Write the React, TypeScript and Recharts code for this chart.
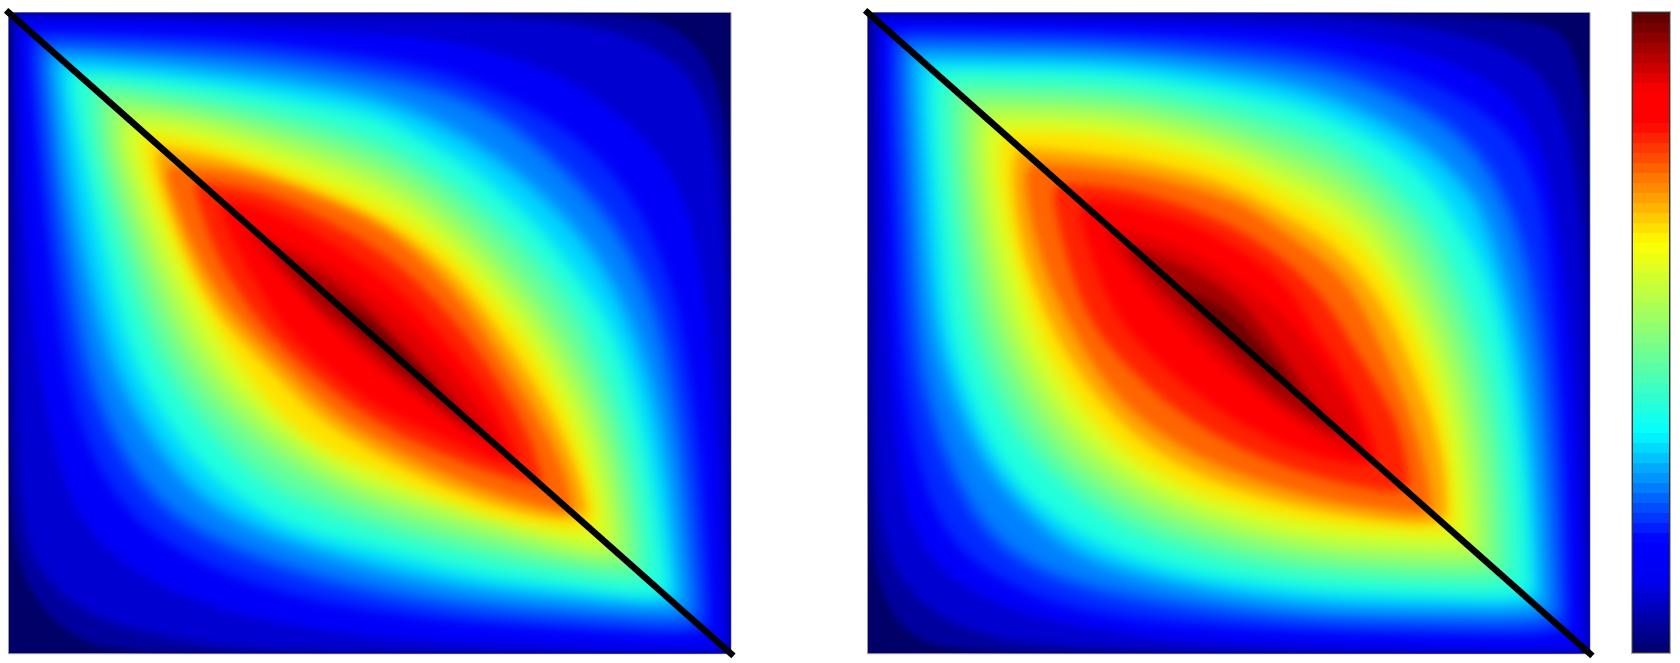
import { ScatterChart, Scatter, XAxis, YAxis, ReferenceArea, BarChart, Bar } from 'recharts'

type Pt = [number, number]

// contour levels, as a fraction of the colour scale
const levels = [0.03, 0.06, 0.115, 0.175, 0.23, 0.29, 0.345, 0.42, 0.49, 0.56, 0.64, 0.685, 0.73, 0.78, 0.83, 0.877, 0.92, 0.97]
// softening of each level, px
const levelBlur = [3, 4, 5, 6, 8, 8, 7, 9, 9, 9, 7, 5, 5, 5, 5, 4, 4, 3]

// left panel: [x, y] in percent of the panel, y from the top
const leftUpper: Pt[][] = [
    [[0, 0], [60, 0], [86.8, 0.2], [91.4, 2], [95.1, 4.8], [97.9, 10], [99.5, 19], [100, 40], [100, 100]],
    [[1, 0.5], [30, 0.4], [60, 0.5], [77.6, 1.2], [86.8, 3.8], [93.8, 8.5], [97.4, 16.3], [98.8, 29], [99.5, 45], [99.7, 70], [99.8, 99]],
    [[1.5, 1], [22, 1.2], [50, 3.4], [59, 4], [68.4, 6.4], [77.6, 10.3], [86.8, 17.8], [92.4, 25.7], [95.1, 34.5], [97, 50], [98.4, 70], [98.8, 91], [99, 99]],
    [[3.5, 3.3], [17.3, 3.5], [35.7, 4.6], [50, 6.9], [59.2, 8.7], [68.4, 12.6], [77.6, 18.4], [84.5, 25.7], [89.1, 34.5], [92.4, 45], [93.5, 52], [95.4, 65], [96.5, 80.7], [97, 96]],
    [[5, 5], [17.3, 5.5], [35.7, 6.8], [50, 9.5], [59.2, 11.8], [68.4, 16], [77.6, 25], [84, 33], [88.5, 43], [91, 52], [93.2, 66], [94.5, 80], [95.4, 94]],
    [[6.5, 7], [17.3, 7.7], [35.7, 10], [50, 12.7], [59.2, 16.9], [68.4, 23], [77.6, 32.3], [83, 40.7], [87.6, 52], [90.6, 66], [92.1, 80], [93, 92]],
    [[8.5, 9.3], [17.3, 9.8], [31, 11.6], [50, 15.5], [54.6, 18], [59.2, 21], [63.8, 24], [68.4, 28.3], [73, 33], [77.6, 39.2], [81.3, 45], [84, 50.5], [86.4, 58.3], [88.2, 66.7], [89.6, 75.5], [90.5, 83.3], [91.2, 90]],
    [[11.5, 11], [20, 12.3], [31, 14.1], [50, 19], [59.2, 24.8], [68.4, 33], [73, 38.5], [78, 45.6], [80.2, 50], [85.6, 65], [87.8, 80], [88, 88]],
    [[14, 13.5], [22, 14.8], [31, 16.5], [50, 22.4], [59.2, 28.5], [68.4, 38], [76.9, 50], [83.3, 65], [85.6, 80], [85.8, 85.5]],
    [[17, 16.5], [24, 17.2], [31, 19], [50, 25.8], [59.2, 32.2], [68.4, 42.7], [73.5, 50], [81, 65], [83.5, 80], [83.5, 83]],
    [[20, 18.9], [31, 21.5], [50, 29.3], [59.2, 36], [63.8, 40.7], [68.4, 47.5], [71.7, 51.6], [75.8, 59.9], [78.6, 67.2], [80.9, 75.5], [81.3, 79.6]],
    [[21.5, 21.2], [31, 23], [50, 30.9], [59.2, 38.3], [63.8, 43.6], [69, 51.6], [73, 58.3], [76.5, 65.6], [79, 72.4], [80, 78]],
    [[23.7, 24], [31, 24.6], [40.3, 27.8], [50, 32.4], [54.6, 36], [59.2, 40.7], [63.8, 46.5], [66.6, 51.6], [70.7, 58.3], [74.4, 65.6], [77.2, 72.4], [78, 77.3]],
    [[27, 26.5], [35.7, 28], [44.9, 33], [50, 36.2], [54.6, 40], [59.2, 45], [63.8, 51], [68, 58], [72, 65.6], [74, 73.5]],
    [[30.2, 29.3], [35.7, 30.4], [44.9, 36], [50, 40], [54.6, 43.9], [59.2, 49.6], [63.8, 55.7], [67.5, 61.5], [69.8, 67.7], [70.7, 69.8]],
    [[34.3, 34], [45, 39.5], [50, 44], [54.6, 47.8], [60, 54], [63.8, 59.5], [67, 64.5], [68.6, 68]],
    [[37, 37], [43, 40.5], [50, 46.3], [52.8, 49.9], [59.2, 57], [63.4, 63], [65.7, 65.8]],
    [[44, 43.8], [50, 47.8], [52.8, 51], [56, 54.7], [59.2, 58.3]],
]

const leftLower: Pt[][] = [
    [[0, 0], [0, 50], [0.3, 78.6], [1.6, 87], [4.4, 92.7], [9, 97.4], [14, 99.5], [30, 100], [100, 100]],
    [[1, 1], [1, 30], [1.1, 50], [1, 65], [2, 81.8], [4.8, 88], [10.4, 93.7], [17.3, 96.3], [26.5, 98.4], [35.7, 99.5], [70, 99.7], [99, 99.8]],
    [[1.5, 2], [1.5, 20], [3, 45], [3.9, 52], [4.8, 60], [8, 75.5], [12.7, 83.3], [22, 90.6], [36.7, 95.3], [50, 97.3], [63.8, 98.4], [77.6, 98.9], [96, 99.4]],
    [[3, 4.8], [3.5, 13.7], [4.8, 29.3], [6.7, 47.5], [9, 61.5], [12.7, 71.9], [17.3, 78.6], [21.9, 82.8], [31, 88], [40.3, 91.1], [50, 93.2], [63.8, 95.3], [77.6, 96], [93.8, 97.1]],
    [[4.5, 6.5], [5.2, 15], [6.5, 29], [9.6, 50], [12, 60], [17, 72], [24, 80], [36, 86], [50, 90.3], [64, 93], [77.6, 94], [94, 95.5]],
    [[6.5, 9], [6.9, 12], [8.6, 29], [12.9, 50], [16.3, 60], [23, 72], [31.5, 80], [50, 86.7], [64, 90], [77.6, 91.6], [92, 92.8]],
    [[8.5, 12], [9.2, 16.3], [10.8, 25.7], [13.1, 37.6], [15.9, 50], [18.2, 56.3], [21.4, 63], [25.5, 69.3], [31, 75], [37.8, 79.7], [44.9, 82.3], [50, 83.5], [59.2, 86.4], [68.4, 88.5], [77.6, 89.5], [89.6, 91.6]],
    [[11.5, 13], [12, 20], [13, 26], [15.7, 37], [19.2, 50], [23.8, 60], [31.8, 70], [38, 75.3], [50, 80.4], [64, 84.5], [77.6, 87.3], [87, 88.5]],
    [[14, 16], [14, 20], [15.2, 26], [18.2, 37], [22.5, 50], [27.7, 60], [37.5, 70], [50, 77.2], [64, 81.5], [77.6, 85], [85, 86]],
    [[16, 18.5], [16, 20], [17.4, 26], [20.7, 37], [25.8, 50], [31.5, 60], [43, 70], [50, 74], [64, 78.5], [77.6, 83], [83, 84]],
    [[18.4, 20], [19.1, 24], [21, 30.4], [23.3, 37], [26, 43.4], [29.3, 50.4], [32, 54.7], [35.7, 60.4], [40.3, 65.6], [44.9, 68.6], [50, 71], [59.2, 75.5], [68.4, 79.1], [77.6, 80.7], [80, 80.7]],
    [[20, 22], [22.2, 30.4], [24.6, 37.7], [27.8, 45], [31.5, 50.4], [37, 56.3], [42, 62.5], [50, 68.3], [59.2, 73.4], [68.4, 77.3], [77.6, 79.4]],
    [[21.4, 23.6], [23.3, 30.4], [26, 37.7], [29.7, 45], [33.9, 50.4], [39.2, 56.3], [45, 62.5], [50, 66], [59.2, 71.3], [68.4, 75.5], [77.6, 78.1]],
    [[25.5, 26.5], [27, 32], [29, 38.2], [32.7, 45], [36.4, 50.4], [42, 56.3], [50, 63.5], [59.2, 68.5], [68.4, 72.3], [74, 74]],
    [[29.3, 29.9], [30.2, 33.5], [32.5, 38.7], [35.7, 44.9], [38.9, 50.4], [44.9, 56.3], [50, 61], [56.9, 64.6], [63.8, 68.2], [69.4, 70.8]],
    [[32.5, 34], [36, 38.7], [39.5, 43], [44, 48.5], [50, 54.5], [56.9, 60.5], [63.8, 65.5], [68, 68.8]],
    [[35.7, 36], [39, 40.8], [43.1, 46], [47.7, 50], [50, 52.5], [54.6, 57], [59.2, 60.8], [63.8, 65]],
    [[43.1, 42.9], [46.8, 47.5], [50, 51], [53.7, 54.2], [57.8, 58.3]],
]

// right panel, same levels
const rightUpper: Pt[][] = [
    [[0, 0], [70, 0], [93.8, 1], [97, 4.3], [98.8, 10], [99.7, 19], [100, 40], [100, 100]],
    [[1, 0.5], [40, 0.2], [63.8, 0.3], [77.6, 2.2], [86.9, 4.8], [93.8, 9.5], [97.4, 18.9], [99, 34.5], [99.5, 50], [99.7, 75], [99.8, 99]],
    [[1.7, 1], [25, 1.2], [50, 2], [59.2, 2.5], [68.4, 3.8], [77.6, 6.4], [86.9, 10.6], [92.4, 17.9], [95.2, 29.3], [97.4, 50], [98.2, 65], [98.8, 86], [99, 99]],
    [[3.6, 3], [17.4, 2.9], [35.9, 3.3], [50, 4.2], [59.2, 5.1], [68.4, 7.2], [77.6, 10.6], [86.9, 16.3], [91.5, 23], [93.8, 32], [95.4, 50.4], [96.3, 65], [96.8, 80.7], [97, 96]],
    [[5, 4.5], [17.4, 4.6], [35.9, 5.1], [50, 6.6], [59.2, 7.8], [68.4, 10.3], [77.6, 15.5], [84, 20.5], [90, 32], [93.2, 50], [94.5, 65], [95.2, 80], [95.6, 94]],
    [[6.5, 6.8], [22, 7], [35.9, 7.3], [50, 9.4], [59.2, 11.2], [68.4, 15], [77.6, 21], [83.5, 28], [85.5, 32], [90.4, 50], [91.9, 65], [92.9, 80], [93.3, 92]],
    [[9.1, 8.8], [22, 8.8], [35.9, 9.3], [50, 12], [59.2, 14.2], [66.1, 17.3], [73, 21.5], [78.6, 27.2], [82.2, 33.5], [85.5, 40.3], [88, 50.4], [90.1, 64], [91.2, 78], [91.7, 90]],
    [[11.5, 11], [31.3, 11.5], [40.5, 12.8], [50, 15], [59.2, 18], [63.8, 20], [68.4, 23.1], [72, 26.6], [75.8, 30.6], [79, 35], [84.8, 50], [87.6, 65], [88.8, 80], [88.6, 88]],
    [[14, 13.5], [31.3, 14], [40.5, 15.5], [50, 18], [59.2, 22], [63.8, 24.2], [68.4, 27.6], [72, 31.6], [75, 35], [81.7, 50], [85, 65], [86.3, 80], [86, 86]],
    [[17, 16.2], [31.3, 16.4], [40.5, 18.2], [50, 21], [59.2, 25.9], [63.8, 28.3], [68.4, 32.1], [72, 37], [78.6, 50], [82.4, 65], [83.8, 80], [83.7, 83.5]],
    [[19.6, 18.6], [31.3, 18.9], [40.5, 21], [50, 24], [54.6, 26.5], [59.2, 29.8], [63.8, 32.4], [68.4, 36.6], [72.1, 42.3], [75.8, 50.4], [78.6, 58.3], [80.4, 67.7], [81.1, 75.5], [81.3, 80]],
    [[21.8, 21.2], [35.8, 22.5], [50, 26.4], [59.2, 32.7], [63.8, 35.8], [68.4, 41], [72, 47], [75, 54.7], [78, 63], [80, 72], [80, 78.5]],
    [[23.9, 23.6], [35.8, 24.6], [50, 28.8], [54.6, 31.9], [59.2, 35.6], [63.8, 39.2], [67.5, 43.9], [70.3, 50.4], [72.1, 54.7], [74.9, 62], [77.2, 70.3], [78, 77]],
    [[27.5, 26.8], [35.8, 27.2], [50, 32.4], [59.2, 39.8], [63.8, 45.5], [66.2, 50.4], [71, 58.9], [74, 66], [75, 73.5]],
    [[30.8, 29.3], [35.8, 29.8], [45, 33], [50, 36], [54.6, 39.2], [59.2, 43.9], [62, 50.4], [63.8, 52.6], [67, 58.9], [69.4, 65], [70.5, 69.5]],
    [[34, 33.5], [45, 36.8], [50, 41], [54.6, 44.2], [59, 49], [62, 53.5], [65, 58], [68, 64], [68.7, 68]],
    [[37, 36.5], [45, 40], [50, 43.5], [52.8, 46.5], [55.5, 50.4], [59.2, 56.2], [62.9, 62.5], [65.7, 65.8]],
    [[44, 43.3], [50, 46.3], [52.8, 50], [56, 54], [58.8, 58]],
]

const rightLower: Pt[][] = [
    [[0, 0], [0, 50], [0.3, 78.6], [1.3, 88.6], [4, 95.2], [8.2, 98.9], [20, 100], [100, 100]],
    [[1, 1], [1, 30], [0.8, 65], [1.8, 80.7], [4, 87.5], [8.2, 93.2], [15, 96.8], [24.3, 99], [60, 99.7], [99, 99.8]],
    [[1.7, 3.3], [2.2, 24], [2.7, 47.5], [3.1, 54.7], [4.1, 70.3], [6, 80.7], [10.5, 87.5], [17.4, 92.1], [26.6, 95.3], [40.5, 97.6], [50, 98.4], [63.8, 98.9], [77.6, 99.2], [96, 99.4]],
    [[3.1, 4.8], [3.1, 16], [3.8, 32], [4.3, 50], [5.4, 61.5], [7.3, 71.3], [10, 79.7], [14.2, 85.4], [22, 90.6], [31.2, 93.7], [40.5, 95], [50, 95.8], [63.8, 96.6], [77.6, 96.8], [93.8, 97.1]],
    [[4.5, 5.5], [4.8, 16], [5.6, 32], [6.4, 50], [8.4, 61.5], [11.5, 71.3], [15.5, 79.7], [20.7, 85.4], [31, 90.4], [50, 93.6], [63.8, 94.8], [77.6, 95], [93, 95.5]],
    [[6.5, 8], [6.9, 16], [7.7, 32], [9, 50], [12.5, 61.5], [16.5, 71.3], [23.5, 79.7], [31, 86.3], [50, 90.9], [63.8, 92.6], [77.6, 92.8], [92, 93]],
    [[8.7, 10], [8.7, 16.3], [9.6, 29.3], [10.7, 43.9], [11.4, 50.4], [13.3, 57.3], [15.6, 64], [18.3, 69.8], [22, 75], [27.6, 80.2], [35.9, 84.9], [45, 87.5], [50, 88.5], [63.8, 90.6], [77.6, 90.8], [89.6, 91.6]],
    [[11.2, 13], [11.2, 20], [11.7, 26.7], [12.4, 34.5], [13.4, 42.3], [14.5, 50.4], [18, 60.4], [22.3, 68.7], [32, 78], [40.5, 82.6], [50, 85.4], [59.2, 87.2], [68.4, 88.1], [87, 89]],
    [[13.8, 16], [13.6, 20], [14, 26.7], [14.9, 34.5], [16.1, 42.3], [17.7, 50.4], [21.7, 60.4], [26.9, 68.7], [32, 73.5], [40.5, 79], [50, 82.3], [59.2, 84.5], [68.4, 85.6], [84, 86.5]],
    [[16, 18.2], [16, 20], [16.3, 26.7], [17.3, 34.5], [18.9, 42.3], [20.8, 50.4], [25.3, 60.4], [31.4, 68.7], [40.5, 75.4], [50, 79.2], [59.2, 81.8], [68.4, 83], [82, 83.7]],
    [[18.3, 20], [18.6, 26.7], [19.7, 34.5], [21.6, 42.3], [23.9, 50.4], [26.2, 55.2], [29, 60.4], [32.2, 64.6], [35.9, 68.7], [40.5, 71.9], [45, 74.5], [50, 76.2], [59.2, 79.1], [68.4, 80.4], [80, 81.2]],
    [[20, 22], [20.5, 32], [22.5, 40.8], [25.8, 49.5], [28.7, 55.2], [33, 61.5], [38, 67], [45, 71.6], [50, 73.8], [59.2, 77], [68.4, 78.7], [78, 80]],
    [[21.6, 23.6], [22.5, 32], [24.8, 40.8], [27.6, 47.5], [31.3, 55.2], [35.9, 61.5], [40.5, 65.6], [45, 68.7], [50, 71.3], [59.2, 75], [68.4, 77], [77.6, 78.4]],
    [[25.5, 27], [26.3, 32.5], [28.6, 42], [31.5, 49.5], [36, 55.2], [42, 61.5], [50, 67.2], [59.2, 71.5], [68.4, 74], [74, 75]],
    [[29.2, 30.4], [30.3, 35.6], [32.6, 42.9], [35.4, 49], [40.5, 54.7], [45, 58.9], [50, 63], [56.9, 67.2], [63.8, 69.8], [69.4, 70.8]],
    [[32.6, 34.5], [35.5, 39], [38.5, 43.5], [43.5, 49.5], [50, 56], [56.9, 62], [63.8, 67], [68, 69]],
    [[35.4, 36.6], [38.6, 40.8], [43.2, 46], [47, 50], [50, 53.5], [54.6, 58.2], [59.2, 62], [64.3, 65.6]],
    [[43.2, 43.4], [47.4, 48.2], [50, 51], [53.7, 54.5], [57.4, 58]],
]

// the black diagonal
const diagonal = [{ u: 0, v: 0 }, { u: 100, v: 100 }]

// colour scale stops, position then r, g, b
const scaleStops: number[][] = [
    [0, 0, 0, 105],
    [0.115, 0, 0, 240],
    [0.175, 0, 0, 255],
    [0.345, 0, 255, 255],
    [0.49, 128, 255, 128],
    [0.64, 255, 255, 0],
    [0.83, 255, 0, 0],
    [0.877, 255, 0, 0],
    [1, 90, 0, 0],
]

const barTicks = [10.2, 20.5, 30.8, 41.1, 51.4, 61.7]
const bandCount = 64

const colorAt = (t: number) => {
    let i = 0
    while (i < scaleStops.length - 2 && t > scaleStops[i + 1][0]) i++
    const a = scaleStops[i]
    const b = scaleStops[i + 1]
    const f = Math.min(1, Math.max(0, (t - a[0]) / (b[0] - a[0])))
    const ch = (k: number) => Math.round(a[k] + (b[k] - a[k]) * f)
    return `rgb(${ch(1)},${ch(2)},${ch(3)})`
}

const NoDot = () => <g />

// closed loop around one level: along the upper branch, back along the lower one
const toLoop = (upper: Pt[], lower: Pt[]) => {
    const first = upper[0]
    const last = upper[upper.length - 1]
    const back = [...lower].reverse()
    return [first, first, ...upper, last, last, ...back].map(([u, v]) => ({ u, v }))
}

const chartMargin = { left: 8.5, right: 9, top: 12.5, bottom: 9.3 }

function Panel({ left, upper, lower }: { left: number; upper: Pt[][]; lower: Pt[][] }) {
    return (
        <div style={{ position: 'absolute', left, top: 0 }}>
            <ScatterChart width={740} height={663} margin={chartMargin}>
                <XAxis type="number" dataKey="u" domain={[0, 100]} hide allowDataOverflow />
                <YAxis type="number" dataKey="v" domain={[0, 100]} reversed hide allowDataOverflow />
                <ReferenceArea x1={0} x2={100} y1={0} y2={100} fill="#000068" fillOpacity={1} stroke="#999" strokeWidth={1} ifOverflow="visible" />
                {levels.map((level, i) => {
                    const next = i + 1 < levels.length ? levels[i + 1] : 1
                    const c = colorAt((level + next) / 2)
                    return (
                        <Scatter
                            key={level}
                            data={toLoop(upper[i], lower[i])}
                            shape={NoDot}
                            line={{ fill: c, stroke: c, strokeWidth: 1, style: { filter: `blur(${levelBlur[i]}px)` } }}
                            lineType="joint"
                            lineJointType="basisClosed"
                            isAnimationActive={false}
                        />
                    )
                })}
            </ScatterChart>
            {/* second chart on top so the line stays sharp and can run past the clip */}
            <div style={{ position: 'absolute', left: 0, top: 0 }}>
                <ScatterChart width={740} height={663} margin={chartMargin}>
                    <XAxis type="number" dataKey="u" domain={[0, 100]} hide />
                    <YAxis type="number" dataKey="v" domain={[0, 100]} reversed hide />
                    <Scatter
                        data={diagonal}
                        shape={NoDot}
                        line={{ stroke: '#000', strokeWidth: 6.5, strokeLinecap: 'square' }}
                        lineType="joint"
                        isAnimationActive={false}
                    />
                </ScatterChart>
            </div>
        </div>
    )
}

function ColorBar() {
    const row: Record<string, number | string> = { name: 'scale' }
    for (let i = 0; i < bandCount; i++) row[`b${i}`] = 1
    return (
        <div style={{ position: 'absolute', left: 1622, top: 0 }}>
            <BarChart width={58} height={663} data={[row]} barCategoryGap={0} margin={{ left: 10, right: 10, top: 13, bottom: 10 }}>
                <XAxis dataKey="name" hide />
                <YAxis type="number" domain={[0, bandCount]} hide />
                {Array.from({ length: bandCount }, (_, i) => (
                    <Bar key={i} dataKey={`b${i}`} stackId="scale" fill={colorAt((i + 0.5) / bandCount)} isAnimationActive={false} />
                ))}
            </BarChart>
            <div style={{ position: 'absolute', left: 0, top: 0 }}>
                <ScatterChart width={58} height={663} margin={{ left: 10, right: 10, top: 13, bottom: 10 }}>
                    <XAxis type="number" dataKey="u" domain={[0, 1]} hide />
                    <YAxis
                        type="number"
                        dataKey="v"
                        domain={[0, bandCount]}
                        ticks={barTicks}
                        orientation="right"
                        mirror
                        width={0}
                        axisLine={false}
                        tickSize={7}
                        tickLine={{ stroke: '#333', strokeWidth: 1.5 }}
                        tickFormatter={() => ''}
                    />
                    <Scatter data={[{ u: 0, v: 0 }]} shape={NoDot} isAnimationActive={false} />
                </ScatterChart>
            </div>
            <div style={{ position: 'absolute', left: 9.5, top: 12, width: 36, height: 639, border: '1.5px solid #333', outline: '1px solid #aaa', pointerEvents: 'none' }} />
        </div>
    )
}

export default function App() {
    return (
        <div style={{ position: 'absolute', left: 0, top: 0, width: 1680, height: 663, background: '#fff', overflow: 'hidden' }}>
            <Panel left={0} upper={leftUpper} lower={leftLower} />
            <Panel left={859} upper={rightUpper} lower={rightLower} />
            <ColorBar />
        </div>
    )
}
